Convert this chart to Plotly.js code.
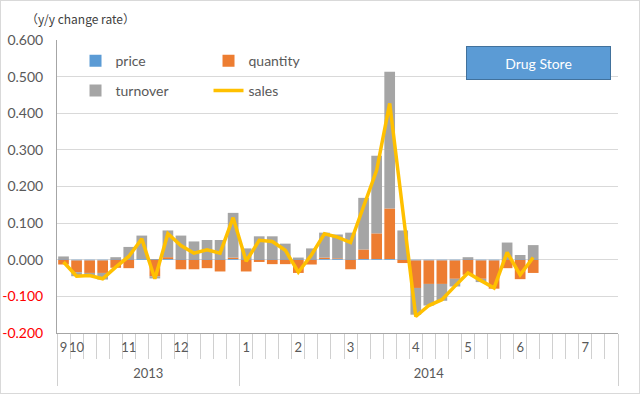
<!DOCTYPE html>
<html>
<head>
<meta charset="utf-8">
<script src="https://cdn.plot.ly/plotly-3.0.1.min.js"></script>
<style>
html,body{margin:0;padding:0;background:#fff;}
#chart{width:638px;height:392px;border:1px solid #D9D9D9;}
</style>
</head>
<body>
<div id="chart"></div>
<script>
// weekly index (0 = last week of Sep 2013)
var weeks = [0,1,2,3,4,5,6,7,8,9,10,11,12,13,14,15,16,17,18,19,20,21,22,23,24,25,26,27,28,29,30,31,32,33,34,35,36];
var totalWeeks = 43;

var price = [0.002,-0.002,-0.002,-0.002,0.002,0.002,0.002,0.002,0.002,0.002,0.002,0.002,0.002,0.002,0.002,0.002,0.002,0.002,0.002,0.002,0.002,0.002,0.002,0.002,0.002,0.002,0.002,-0.002,-0.002,-0.002,-0.002,0.002,-0.002,-0.002,0.002,0.002,0.002];
var quantity = [-0.013,-0.032,-0.034,-0.034,-0.022,-0.023,0.000,-0.045,0.005,-0.026,-0.026,-0.023,-0.032,0.004,-0.032,-0.006,-0.012,-0.012,-0.036,-0.013,0.004,0.002,-0.026,0.026,0.070,0.138,-0.009,-0.075,-0.064,-0.064,-0.050,-0.041,-0.050,-0.077,-0.023,-0.053,-0.036];
var turnover = [0.007,-0.011,-0.009,-0.018,0.005,0.033,0.064,-0.006,0.073,0.064,0.048,0.052,0.052,0.122,0.029,0.062,0.062,0.042,0.004,0.029,0.068,0.065,0.072,0.141,0.212,0.373,0.078,-0.073,-0.059,-0.046,-0.021,0.005,-0.009,0.000,0.045,0.011,0.038];
var sales = [-0.006,-0.045,-0.043,-0.052,-0.020,0.009,0.057,-0.052,0.071,0.039,0.018,0.027,0.018,0.115,-0.004,0.053,0.050,0.026,-0.034,0.013,0.071,0.062,0.047,0.148,0.244,0.427,0.133,-0.155,-0.125,-0.109,-0.072,-0.036,-0.057,-0.077,0.020,-0.041,0.006];

// month labels at first week of each month
var monthStart = [0,1,5,9,14,18,22,27,31,35,40];
var monthLabels = ["9","10","11","12","1","2","3","4","5","6","7"];
// years: first week index and label
var yearStart = [0,14];
var yearLabels = ["2013","2014"];

var yTicks = [-0.2,-0.1,0,0.1,0.2,0.3,0.4,0.5,0.6];

var yText = yTicks.map(function(v){
  var s = v.toFixed(3);
  if (v < 0) return '<span style="color:#FF0000">' + s + '</span>';
  return s;
});

var boundaries = [];
for (var i = 0; i <= totalWeeks; i++) boundaries.push(i - 0.5);
var yearBounds = yearStart.map(function(s){return s - 0.5;}).concat([totalWeeks - 0.5]);
var yearCenters = yearStart.map(function(s, k){
  var e = (k + 1 < yearStart.length ? yearStart[k+1] : totalWeeks) - 1;
  return (s + e) / 2;
});

var xr = [-0.5, totalWeeks - 0.5];
var font = 'Lato, "Noto Sans", sans-serif';
var grey = '#595959';

var traces = [
  {type:'bar', name:'price', x:weeks, y:price, marker:{color:'#5B9BD5'}, legend:'legend', hoverinfo:'y'},
  {type:'bar', name:'quantity', x:weeks, y:quantity, marker:{color:'#ED7D31'}, legend:'legend', hoverinfo:'y'},
  {type:'bar', name:'turnover', x:weeks, y:turnover, marker:{color:'#A5A5A5'}, legend:'legend2', hoverinfo:'y'},
  {type:'scatter', mode:'lines', name:'sales', x:weeks, y:sales, line:{color:'#FFC000', width:3.5}, legend:'legend2', hoverinfo:'y'}
];
// invisible carriers so that the auxiliary label axes get drawn
['x2','x3','x4'].forEach(function(ax){
  traces.push({type:'scatter', mode:'lines', x:weeks, y:sales, xaxis:ax, yaxis:'y',
    opacity:0, showlegend:false, hoverinfo:'skip', line:{width:0}});
});

var baseX = {range:xr, autorange:false, showgrid:false, zeroline:false, fixedrange:true};

var layout = {
  width:638, height:392,
  margin:{l:56, r:21, t:39, b:60, pad:0},
  paper_bgcolor:'#FFFFFF', plot_bgcolor:'#FFFFFF',
  barmode:'relative', bargap:0.18,
  font:{family:font, size:13, color:grey},
  showlegend:true,
  legend:{orientation:'h', x:0.033, y:0.928, xanchor:'left', yanchor:'middle', bgcolor:'rgba(0,0,0,0)',
          font:{family:font, size:14, color:grey}, entrywidth:88, traceorder:'normal'},
  legend2:{orientation:'h', x:0.033, y:0.826, xanchor:'left', yanchor:'middle', bgcolor:'rgba(0,0,0,0)',
          font:{family:font, size:14, color:grey}, entrywidth:88, traceorder:'normal'},
  xaxis: Object.assign({}, baseX, {
    tickmode:'array', tickvals:boundaries, ticktext:boundaries.map(function(){return '';}),
    ticks:'outside', ticklen:25, tickcolor:'#D0D0D0', tickwidth:1,
    showticklabels:false, showline:true, linecolor:'#A6A6A6', linewidth:1
  }),
  xaxis2: Object.assign({}, baseX, {
    overlaying:'x', anchor:'y', side:'bottom',
    tickmode:'array', tickvals:yearBounds, ticktext:yearBounds.map(function(){return '';}),
    ticks:'outside', ticklen:52, tickcolor:'#D0D0D0', tickwidth:1, showticklabels:false, showline:false
  }),
  xaxis3: Object.assign({}, baseX, {
    overlaying:'x', anchor:'y', side:'bottom',
    tickmode:'array', tickvals:monthStart, ticktext:monthLabels, tickangle:0,
    ticks:'', showline:false, ticklabelstandoff:5,
    tickfont:{family:font, size:13, color:grey}
  }),
  xaxis4: Object.assign({}, baseX, {
    overlaying:'x', anchor:'y', side:'bottom',
    tickmode:'array', tickvals:yearCenters, ticktext:yearLabels, tickangle:0,
    ticks:'', showline:false, ticklabelstandoff:31,
    tickfont:{family:font, size:13, color:grey}
  }),
  yaxis:{range:[-0.2,0.6], autorange:false, tickmode:'array', tickvals:yTicks, ticktext:yText,
    showgrid:true, gridcolor:'#D9D9D9', gridwidth:1, zeroline:false,
    showline:true, linecolor:'#A6A6A6', linewidth:1, ticks:'', ticklabelstandoff:10,
    tickfont:{family:font, size:14, color:grey}, fixedrange:true},
  annotations:[
    {xref:'paper', yref:'paper', x:-0.059, y:1.075, xanchor:'left', yanchor:'middle', showarrow:false,
     text:'（y/y change rate）', font:{family:'"Noto Sans CJK JP", sans-serif', size:12, color:'#404040'}},
    {xref:'paper', yref:'paper', x:0.858, y:0.9215, xanchor:'center', yanchor:'middle', showarrow:false,
     text:'Drug Store', width:143, height:32, bgcolor:'#5B9BD5', bordercolor:'#41719C', borderwidth:1, borderpad:0,
     font:{family:font, size:14, color:'#FFFFFF'}}
  ]
};

Plotly.newPlot('chart', traces, layout, {displayModeBar:false, staticPlot:true});
</script>
</body>
</html>
